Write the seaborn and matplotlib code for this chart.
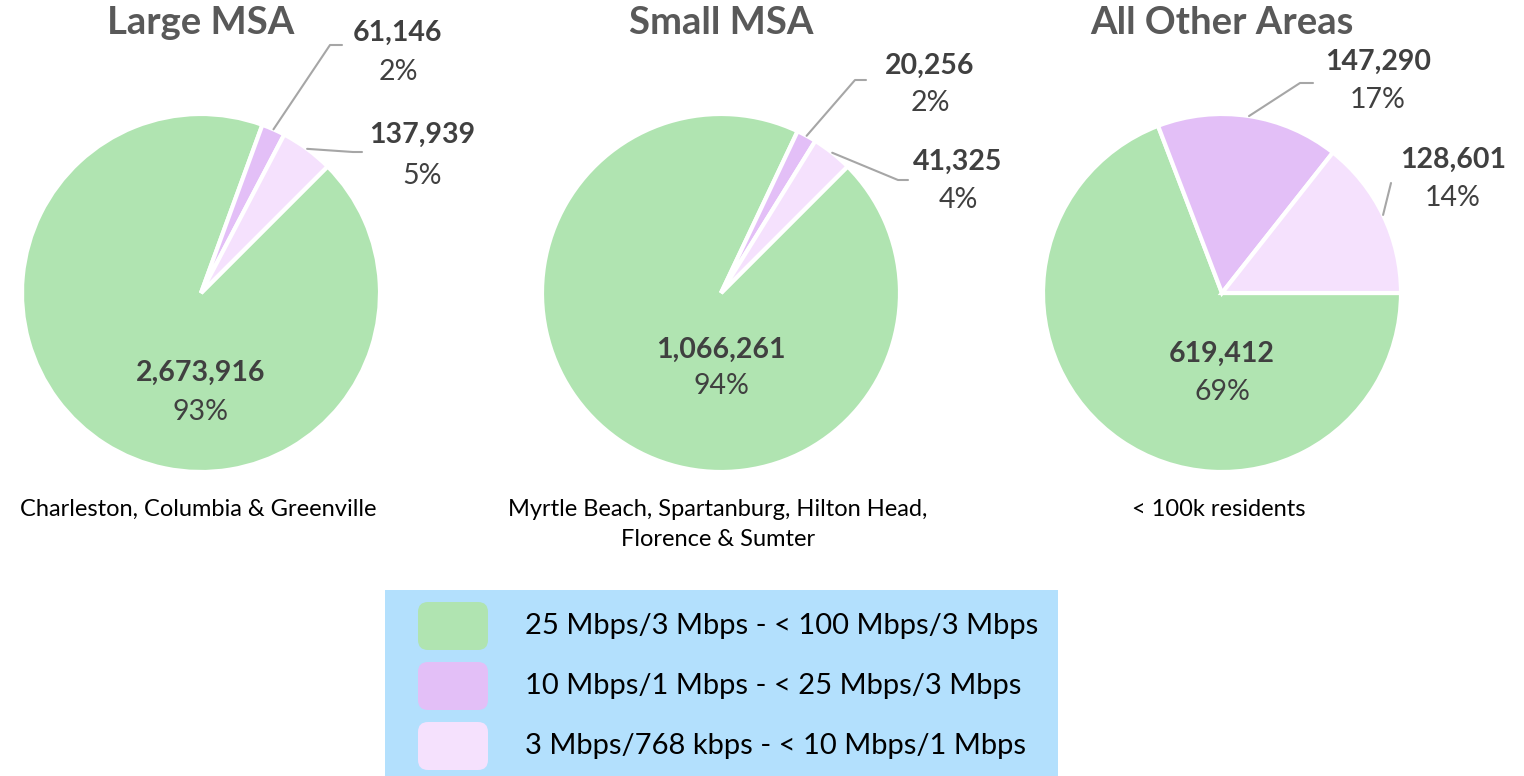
import numpy as np
import matplotlib.pyplot as plt
import seaborn as sns
from matplotlib.patches import FancyBboxPatch

sns.set_theme(style="white")
plt.rcParams['font.family'] = ['Lato', 'DejaVu Sans']

# ---------------------------------------------------------------------------
# data
# ---------------------------------------------------------------------------
speed_tiers = ["25 Mbps/3 Mbps - < 100 Mbps/3 Mbps",
               "10 Mbps/1 Mbps - < 25 Mbps/3 Mbps",
               "3 Mbps/768 kbps - < 10 Mbps/1 Mbps"]
areas = ["Large MSA", "Small MSA", "All Other Areas"]
area_notes = ["Charleston, Columbia & Greenville",
              "Myrtle Beach, Spartanburg, Hilton Head,\nFlorence & Sumter",
              "< 100k residents"]
large_msa = [2673916, 61146, 137939]
small_msa = [1066261, 20256, 41325]
other_areas = [619412, 147290, 128601]
# percentages as printed on the chart
large_pct = [93, 2, 5]
small_pct = [94, 2, 4]
other_pct = [69, 17, 14]

COLORS = ["#B0E4B1", "#E3BFF7", "#F5E1FD"]
LEGEND_BG = "#B3E0FD"
W, H = 1524, 776
R = 179          # pie radius, px
CY = 293         # pie centre y, px

# layout per pie: centre x, start angle, label positions (px), leader elbows (px)
layout = [
    dict(cx=201, start=45,
         lab=[(201, 373, 412), (398, 33, 72), (422, 135, 176)],
         elbow=[None, [(330, 45), (342, 45)], [(353, 152), (362, 152)]]),
    dict(cx=721, start=45,
         lab=[(721, 350, 386), (930, 66, 103), (958, 162, 200)],
         elbow=[None, [(855, 80), (866, 80)], [(898, 180), (908, 180)]]),
    dict(cx=1222, start=0,
         lab=[(1222, 354, 392), (1378, 62, 100), (1453, 160, 198)],
         elbow=[None, [(1300, 83), (1313, 83)], [(1391, 183)]]),
]

fig = plt.figure(figsize=(W / 100, H / 100), dpi=100)

for area, note, vals, pcts, lay in zip(areas, area_notes,
                                       [large_msa, small_msa, other_areas],
                                       [large_pct, small_pct, other_pct], layout):
    cx = lay['cx']
    ax = fig.add_axes([(cx - R) / W, (H - CY - R) / H, 2 * R / W, 2 * R / H])
    wedges, _ = ax.pie(vals, colors=COLORS, startangle=lay['start'], counterclock=False,
                       radius=1, wedgeprops=dict(edgecolor='white', linewidth=3))
    ax.set_xlim(-1, 1)
    ax.set_ylim(-1, 1)
    ax.set_aspect('equal')
    ax.axis('off')

    def d(px, py):
        return (px - cx) / R, (CY - py) / R

    for i, (w, v, p) in enumerate(zip(wedges, vals, pcts)):
        lx, ly1, ly2 = lay['lab'][i]
        ax.text(*d(lx, ly1), f"{v:,}", ha='center', va='center', fontsize=20.5,
                fontweight='bold', color='#404040', clip_on=False)
        ax.text(*d(lx, ly2), f"{p}%", ha='center', va='center',
                fontsize=20.5, color='#404040', clip_on=False)
        if lay['elbow'][i]:
            mid = np.deg2rad((w.theta1 + w.theta2) / 2)
            pts = [(np.cos(mid), np.sin(mid))] + [d(*q) for q in lay['elbow'][i]]
            xs, ys = zip(*pts)
            ax.plot(xs, ys, color='#A6A6A6', lw=1.5, clip_on=False)

    ax.text(*d(cx, 23), area, ha='center', va='center', fontsize=27.5,
            fontweight='bold', color='#595959', clip_on=False)
    ax.text(*d(cx - 3, 499), note, ha='center', va='top', fontsize=17,
            color='black', clip_on=False, linespacing=1.55)

# ---------------------------------------------------------------------------
# legend box
# ---------------------------------------------------------------------------
lx0, ly0, lw, lh = 385, 590, 673, 186
lax = fig.add_axes([lx0 / W, (H - ly0 - lh) / H, lw / W, lh / H])
lax.set_xlim(lx0, lx0 + lw)
lax.set_ylim(ly0 + lh, ly0)
lax.set_facecolor(LEGEND_BG)
for s in lax.spines.values():
    s.set_visible(False)
lax.set_xticks([])
lax.set_yticks([])
for i, (tier, col) in enumerate(zip(speed_tiers, COLORS)):
    yc = 626 + i * 60
    lax.add_patch(FancyBboxPatch((418, yc - 24), 70, 48,
                                 boxstyle="round,pad=0,rounding_size=10",
                                 facecolor=col, edgecolor='none'))
    lax.text(525, yc, tier, ha='left', va='center', fontsize=21, color='black')

fig.savefig("out.png", dpi=100)
